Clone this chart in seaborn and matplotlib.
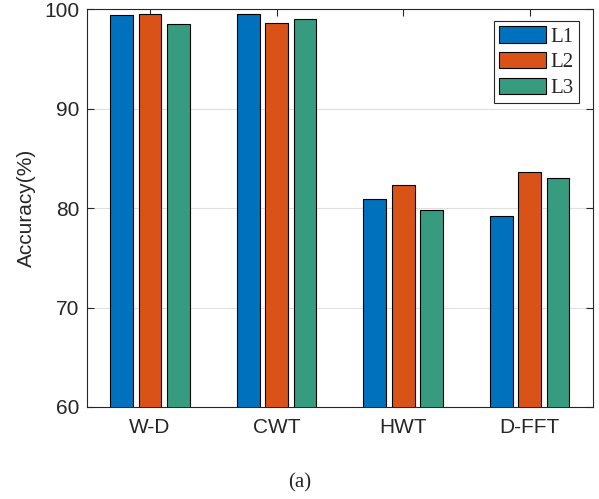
import matplotlib
matplotlib.use("Agg")
import matplotlib.pyplot as plt
import seaborn as sns
import pandas as pd

categories = ["W-D", "CWT", "HWT", "D-FFT"]
series = ["L1", "L2", "L3"]
L1 = [99.45, 99.5, 80.9, 79.2]
L2 = [99.5, 98.65, 82.35, 83.6]
L3 = [98.55, 99.0, 79.8, 83.0]
colors = ["#0072BD", "#D95319", "#369B7F"]

df = pd.DataFrame({
    "Method": categories * 3,
    "Level": [s for s in series for _ in categories],
    "Accuracy": L1 + L2 + L3,
})

sns.set_style("white")
plt.rcParams["font.family"] = ["Liberation Sans", "DejaVu Sans"]

fig = plt.figure(figsize=(5.99, 4.99), dpi=100)
ax = fig.add_axes([0.1447, 0.1844, 0.8453, 0.7966])

sns.barplot(data=df, x="Method", y="Accuracy", hue="Level", order=categories,
            hue_order=series, palette=colors, saturation=1, width=0.672, gap=0.196,
            edgecolor="black", linewidth=0.8, errorbar=None, ax=ax, zorder=3)

ax.set_ylim(60, 100)
ax.set_xlim(-0.5, 3.5)
ax.set_yticks([60, 70, 80, 90, 100])
ax.set_xlabel("")
ax.set_ylabel("Accuracy(%)", fontsize=15, color="#262626", labelpad=6)
ax.yaxis.grid(True, color="#DFDFDF", linewidth=0.8, zorder=0)
ax.set_axisbelow(True)
ax.tick_params(axis="both", direction="in", length=5, width=0.8, colors="#262626",
               labelsize=15, top=True, right=True, bottom=True, left=True)
ax.tick_params(axis="x", pad=8)
ax.tick_params(axis="y", pad=5)
for sp in ax.spines.values():
    sp.set_visible(True)
    sp.set_color("#262626")
    sp.set_linewidth(0.8)

serif = ["Liberation Serif", "DejaVu Serif"]
leg = ax.legend(loc="upper right", bbox_to_anchor=(0.9716, 0.9712), frameon=True,
                fancybox=False, framealpha=1, edgecolor="#262626",
                prop={"family": serif, "size": 15},
                handlelength=2.25, handleheight=0.85, handletextpad=0.2,
                labelspacing=0.25, borderpad=0.25, borderaxespad=0)
leg.get_frame().set_linewidth(0.8)

fig.text(0.5, 0.033, "(a)", ha="center", va="center",
         fontfamily=serif, fontsize=15)

fig.savefig("out.png", dpi=100)
